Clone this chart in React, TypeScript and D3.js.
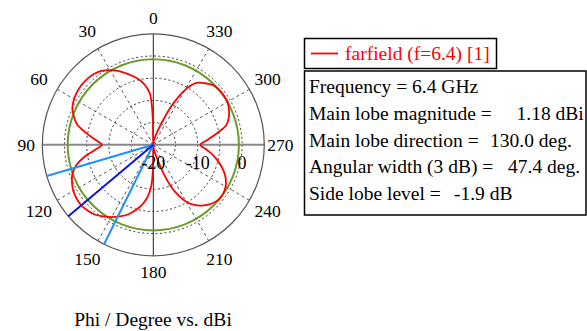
import React from "react";
import * as d3 from "d3";

// ---- data ----
const phiDeg = [0, 1, 2, 4, 8, 12, 16, 20, 25, 30, 35, 40, 45, 50, 55, 60, 65, 70, 75, 80, 85, 90,
  95, 100, 105, 110, 115, 120, 125, 130, 135, 140, 145, 150, 155, 160, 165, 170, 174, 177, 179, 180,
  183, 188, 193, 197, 200, 203, 206, 210, 215, 220, 225, 230, 235, 240, 245, 250, 255, 260, 265, 270,
  275, 280, 285, 290, 295, 300, 305, 310, 315, 320, 325, 329, 332, 335, 338, 342, 347, 353];
const gainDbi = [-20, -14.5, -11.5, -8.3, -6.4, -5.1, -4.0, -3.0, -1.7, -0.6, 0.3, 0.8, 1.0, 1.05, 0.9, 0.6, 0.1, -0.9, -2.2, -4.6, -6.9, -8.4,
  -6.8, -4.2, -2.0, -0.6, 0.2, 0.8, 1.1, 1.18, 0.95, 0.5, -0.3, -1.2, -2.2, -3.3, -4.8, -6.5, -8.3, -10.5, -14, -20,
  -19.7, -19.0, -17.8, -15.8, -12.8, -9.8, -7.5, -5.2, -3.4, -2.2, -1.3, -0.8, -0.8, -1.2, -2.0, -3.2, -4.7, -6.3, -8.0, -9.4,
  -7.8, -5.6, -3.0, -1.9, -1.2, -0.7, -0.6, -0.7, -1.0, -1.9, -3.0, -5.0, -7.5, -10.5, -13.8, -16.4, -18.2, -19.3];

const angleTicks = [0, 30, 60, 90, 120, 150, 180, 210, 240, 270, 300, 330];
const gridLevels = [-15, -10, -5, 0];
const radialLabels = [-20, -10, 0];
const radialDomain = [-20, 5];

const mainLobeDirection = 130.0;
const angularWidth = 47.4;
const sideLobeLevelAbs = -0.72; // 1.18 - 1.9

const legendLabel = "farfield (f=6.4) [1]";
const infoLabels = ["Frequency = 6.4 GHz", "Main lobe magnitude =", "Main lobe direction =", "Angular width (3 dB) =", "Side lobe level ="];
const infoValues = ["", "1.18 dBi", "130.0 deg.", "47.4 deg.", "-1.9 dB"];
const infoValueX = [0, 516.5, 490, 508, 454];
const title = "Phi / Degree vs. dBi";

const FONT = "'Liberation Serif', 'Times New Roman', serif";

export default function App() {
  const cx = 153.3;
  const cy = 144.8;
  const r = d3.scaleLinear().domain(radialDomain).range([0, 111]);
  const R = r(radialDomain[1]);
  const toRad = (d: number) => (-d * Math.PI) / 180; // CCW from top
  const pt = (deg: number, rad: number): [number, number] => [
    cx + rad * Math.sin(toRad(deg)),
    cy - rad * Math.cos(toRad(deg)),
  ];

  const pts = phiDeg.map((p, i) => [toRad(p), r(gainDbi[i])] as [number, number]);
  const line = d3
    .lineRadial<[number, number]>()
    .angle((d) => d[0])
    .radius((d) => d[1])
    .curve(d3.curveCatmullRomClosed.alpha(0.5));
  const pathD = line(pts) || "";

  const beamLines = [
    { a: mainLobeDirection - angularWidth / 2, c: "#1e90ff" },
    { a: mainLobeDirection + angularWidth / 2, c: "#1e90ff" },
    { a: mainLobeDirection, c: "#0a14e6" },
  ];

  return (
    <svg width={587} height={331} style={{ position: "absolute", left: 0, top: 0, background: "#fff" }}
      fontFamily={FONT}>
      {/* dashed spokes */}
      {angleTicks.filter((a) => a % 90 !== 0).map((a) => {
        const [x, y] = pt(a, R);
        return <line key={"s" + a} x1={cx} y1={cy} x2={x} y2={y} stroke="#555" strokeWidth={1} strokeDasharray="3,3" />;
      })}
      {/* dotted circles */}
      {gridLevels.map((l) => (
        <circle key={"g" + l} cx={cx} cy={cy} r={r(l)} fill="none" stroke="#333" strokeWidth={1} strokeDasharray="2,2.5" />
      ))}
      {/* axes */}
      <line x1={cx - R} y1={cy} x2={cx + R} y2={cy} stroke="#888" strokeWidth={2} />
      <line x1={cx} y1={cy - R} x2={cx} y2={cy + R} stroke="#222" strokeWidth={1} />
      <circle cx={cx} cy={cy} r={R} fill="none" stroke="#555" strokeWidth={1.2} />
      {/* side lobe level circle */}
      <circle cx={cx} cy={cy} r={r(sideLobeLevelAbs)} fill="none" stroke="#6e9b2f" strokeWidth={2} />
      {/* pattern */}
      <path d={pathD} transform={`translate(${cx},${cy})`} fill="none" stroke="#ff0000" strokeWidth={1.8} />
      {/* beam lines */}
      {beamLines.map((b, i) => {
        const [x, y] = pt(b.a, R);
        return <line key={"b" + i} x1={cx} y1={cy} x2={x} y2={y} stroke={b.c} strokeWidth={2} />;
      })}
      {/* angle labels */}
      {angleTicks.map((a) => {
        const [x, y] = pt(a, a % 90 === 0 ? 127 : 132);
        return (
          <text key={"t" + a} x={x} y={y} dy="0.35em" textAnchor="middle" fontSize={17.5} fill="#000">
            {a}
          </text>
        );
      })}
      {/* radial labels */}
      {radialLabels.map((l) => (
        <text key={"r" + l} x={cx + r(l)} y={168.5} textAnchor="middle" fontSize={18} fill="#000">
          {l}
        </text>
      ))}
      {/* legend */}
      <rect x={304.5} y={38.5} width={192} height={30} fill="#fff" stroke="#000" strokeWidth={1.5} />
      <line x1={311} y1={53.5} x2={338} y2={53.5} stroke="#ff0000" strokeWidth={1.8} />
      <text x={345} y={60} fontSize={19.5} fill="#ff0000">{legendLabel}</text>
      <rect x={304.5} y={71} width={281.5} height={144} fill="#fff" stroke="#000" strokeWidth={1.5} />
      {infoLabels.map((t, i) => (
        <text key={"il" + i} x={309} y={92.7 + i * 26.9} fontSize={19.5} fill="#000">{t}</text>
      ))}
      {infoValues.map((t, i) =>
        t ? (
          <text key={"iv" + i} x={infoValueX[i]} y={92.7 + i * 26.9} fontSize={19.5} fill="#000">{t}</text>
        ) : null
      )}
      <text x={153} y={325.5} textAnchor="middle" fontSize={19.5} fill="#000">{title}</text>
    </svg>
  );
}
